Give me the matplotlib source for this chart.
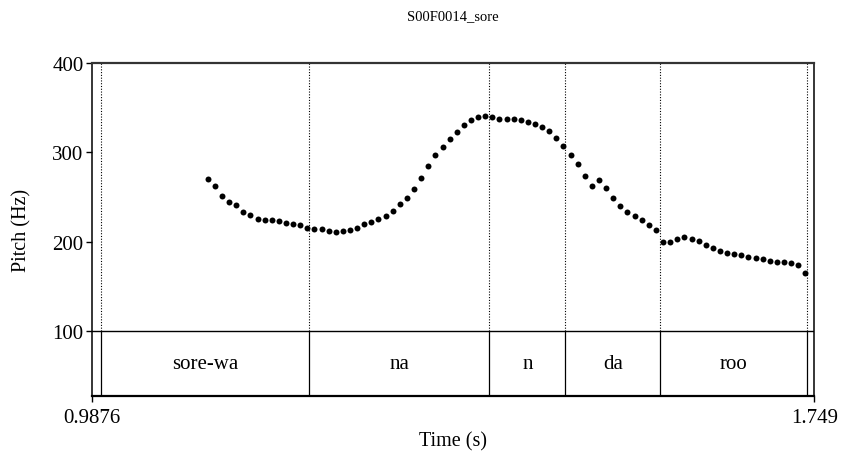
import matplotlib.pyplot as plt
import numpy as np

plt.rcParams["font.family"] = ["Liberation Serif", "DejaVu Serif"]

# pitch track (Hz), one frame every 7.5 ms
first_frame = 1.1096
time_step = 0.0075
pitch = [
    270.3, 262.0, 250.7, 244.8, 241.0, 233.2, 229.4, 224.9, 224.2, 223.8,
    222.6, 221.1, 220.0, 218.1, 215.0, 214.4, 214.0, 211.8, 211.0, 211.8,
    213.3, 215.2, 219.2, 221.5, 224.9, 229.0, 234.3, 241.7, 248.5, 259.0,
    271.4, 284.9, 297.3, 305.8, 315.3, 323.2, 331.0, 335.9, 339.3, 340.7,
    339.3, 337.3, 337.8, 337.0, 335.9, 334.4, 331.7, 328.8, 324.3, 316.4,
    306.8, 296.9, 286.7, 273.7, 262.4, 269.5, 260.2, 249.1, 239.9, 233.2,
    228.2, 223.7, 218.1, 212.5, 199.4, 199.4, 203.1, 204.6, 203.1, 200.1,
    195.6, 192.7, 189.6, 187.4, 185.9, 184.4, 182.9, 181.4, 180.6, 178.7,
    177.3, 176.5, 175.4, 173.6, 164.6,
]

# text grid tier
boundaries = [0.9971, 1.2164, 1.4064, 1.4866, 1.5867, 1.7410]
labels = ["sore-wa", "na", "n", "da", "roo"]

t_min, t_max = 0.9876, 1.749
f_min, f_max = 100, 400
tier_bottom = 26.7  # tier drawn below the 100 Hz line

times = first_frame + time_step * np.arange(len(pitch))

fig = plt.figure(figsize=(8.41, 4.52), dpi=100)
ax = fig.add_axes([0.1094, 0.1217, 0.8588, 0.736])

ax.plot(times, pitch, "o", color="black", markersize=4.3, markeredgewidth=0)

# boundaries: dotted over the pitch area, solid in the tier
for b in boundaries:
    ax.plot([b, b], [f_min, f_max], color="black", lw=0.8, linestyle=(0, (1, 1.5)))
    ax.plot([b, b], [tier_bottom, f_min], color="black", lw=0.9)
ax.axhline(f_min, color="black", lw=1.0)

for (start, end), lab in zip(zip(boundaries[:-1], boundaries[1:]), labels):
    ax.text((start + end) / 2, (tier_bottom + f_min) / 2, lab,
            ha="center", va="center", fontsize=15)

ax.set_xlim(t_min, t_max)
ax.set_ylim(tier_bottom, f_max)
ax.set_xticks([t_min, t_max])
ax.set_xticklabels(["0.9876", "1.749"])
ax.set_yticks([100, 200, 300, 400])
ax.tick_params(axis="x", direction="out", length=4, width=1, labelsize=15, pad=5)
ax.tick_params(axis="y", direction="out", length=4, width=1, labelsize=15, pad=2)
for side in ["top", "bottom"]:
    ax.spines[side].set_linewidth(1.6)
for side in ["left", "right"]:
    ax.spines[side].set_linewidth(1.1)
ax.spines["top"].set_color("#333333")

ax.set_xlabel("Time (s)", fontsize=14.5, labelpad=3)
ax.set_ylabel("Pitch (Hz)", fontsize=14.5, labelpad=15)
ax.set_title("S00F0014_sore", fontsize=10.5, pad=32)

fig.savefig("out.png", dpi=100)
